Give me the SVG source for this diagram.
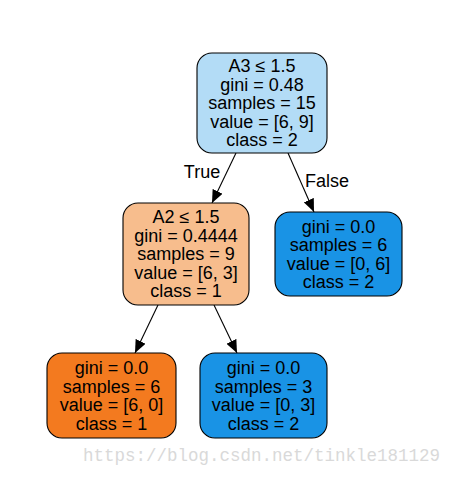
<svg xmlns="http://www.w3.org/2000/svg" width="451" height="477" viewBox="0 0 451 477">
<defs>
<style>
.box{stroke:#000;stroke-width:1.1}
.t{font-family:"Liberation Sans",Arial,sans-serif;font-size:18px;fill:#000;text-anchor:middle}
.e{stroke:#000;stroke-width:1.1;fill:none;marker-end:url(#ah)}
.wm{font-family:"Liberation Mono","DejaVu Sans Mono",monospace;font-size:17.5px;fill:#d9d9d9}
</style>
<marker id="ah" markerUnits="userSpaceOnUse" markerWidth="13" markerHeight="11" viewBox="0 0 13 11" refX="13" refY="5.5" orient="auto">
<path d="M0,0 L13,5.5 L0,11 Z" fill="#000"/>
</marker>
</defs>
<rect width="451" height="477" fill="#fff"/>
<g id="connectors">
<path class="e" d="M236,153 L212,203"/>
<path class="e" d="M288,153 L314,212"/>
<path class="e" d="M158,305 L135,353"/>
<path class="e" d="M214,305 L237,353"/>
<text class="t" x="202" y="178">True</text>
<text class="t" x="327" y="187">False</text>
</g>
<g id="node0">
<rect class="box" x="197" y="53" width="130" height="100" rx="15" fill="#b3dcf6"/>
<text class="t" x="262" y="72">A3 ≤ 1.5</text>
<text class="t" x="262" y="90.5">gini = 0.48</text>
<text class="t" x="262" y="109">samples = 15</text>
<text class="t" x="262" y="127.5">value = [6, 9]</text>
<text class="t" x="262" y="146">class = 2</text>
</g>
<g id="node1">
<rect class="box" x="123" y="203" width="126" height="102" rx="15" fill="#f7bd8d"/>
<text class="t" x="186" y="223">A2 ≤ 1.5</text>
<text class="t" x="186" y="241.5">gini = 0.4444</text>
<text class="t" x="186" y="260">samples = 9</text>
<text class="t" x="186" y="278.5">value = [6, 3]</text>
<text class="t" x="186" y="297">class = 1</text>
</g>
<g id="node2">
<rect class="box" x="275" y="212" width="127" height="84" rx="15" fill="#1993e5"/>
<text class="t" x="338.5" y="232.5">gini = 0.0</text>
<text class="t" x="338.5" y="251">samples = 6</text>
<text class="t" x="338.5" y="269.5">value = [0, 6]</text>
<text class="t" x="338.5" y="288">class = 2</text>
</g>
<g id="node3">
<rect class="box" x="47" y="353" width="129" height="85" rx="15" fill="#f37a1f"/>
<text class="t" x="111.5" y="374">gini = 0.0</text>
<text class="t" x="111.5" y="392.5">samples = 6</text>
<text class="t" x="111.5" y="411">value = [6, 0]</text>
<text class="t" x="111.5" y="429.5">class = 1</text>
</g>
<g id="node4">
<rect class="box" x="200" y="353" width="127" height="85" rx="15" fill="#1993e5"/>
<text class="t" x="263.5" y="374">gini = 0.0</text>
<text class="t" x="263.5" y="392.5">samples = 3</text>
<text class="t" x="263.5" y="411">value = [0, 3]</text>
<text class="t" x="263.5" y="429.5">class = 2</text>
</g>
<text class="wm" x="440" y="461" text-anchor="end">https://blog.csdn.net/tinkle181129</text>
</svg>
